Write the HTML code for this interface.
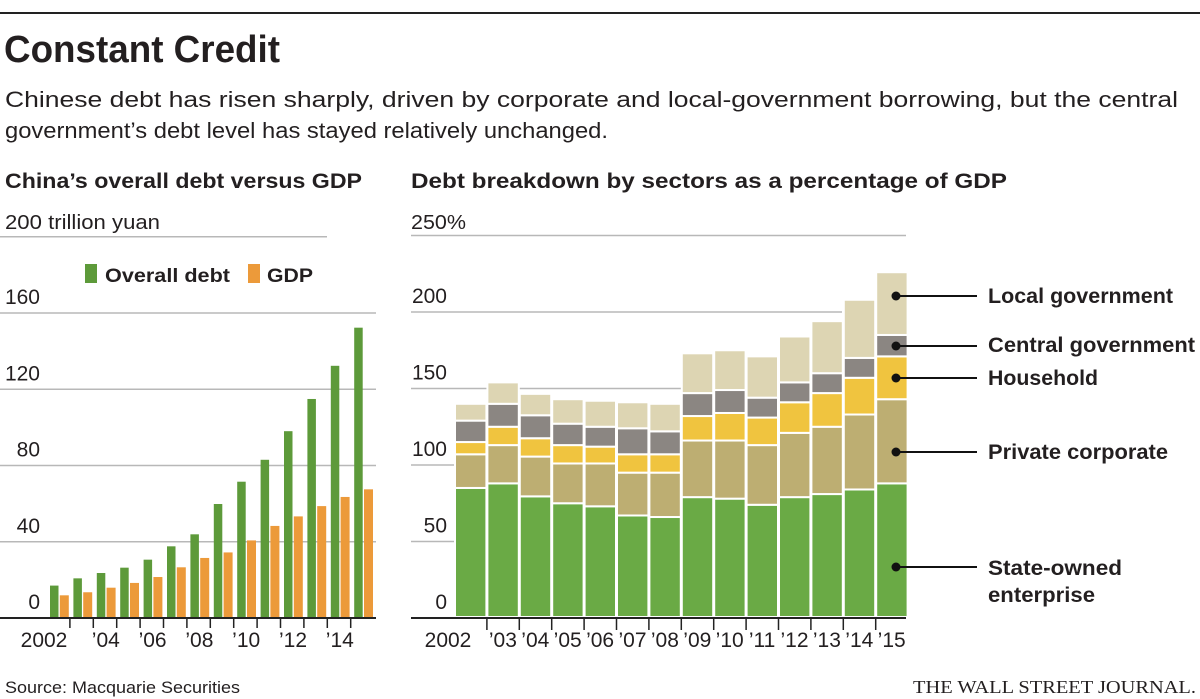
<!DOCTYPE html>
<html><head><meta charset="utf-8"><style>
html,body{margin:0;padding:0;background:#fff;}
svg{display:block;font-family:"Liberation Sans",sans-serif;}
</style></head><body>
<svg id="chart" width="1200" height="699" viewBox="0 0 1200 699" xmlns="http://www.w3.org/2000/svg">
<line x1="0" y1="13" x2="1200" y2="13" stroke="#222" stroke-width="2"/>
<text x="4" y="62" font-size="38" font-weight="bold" fill="#231f20" textLength="276" lengthAdjust="spacingAndGlyphs">Constant Credit</text>
<text x="5" y="107" font-size="22" fill="#231f20" textLength="1173" lengthAdjust="spacingAndGlyphs">Chinese debt has risen sharply, driven by corporate and local-government borrowing, but the central</text>
<text x="5" y="138" font-size="22" fill="#231f20" textLength="603" lengthAdjust="spacingAndGlyphs">government’s debt level has stayed relatively unchanged.</text>
<text x="5" y="188" font-size="21" font-weight="bold" fill="#231f20" textLength="357" lengthAdjust="spacingAndGlyphs">China’s overall debt versus GDP</text>
<text x="411" y="188" font-size="21" font-weight="bold" fill="#231f20" textLength="596" lengthAdjust="spacingAndGlyphs">Debt breakdown by sectors as a percentage of GDP</text>
<text x="5" y="229" font-size="20" fill="#231f20" textLength="155" lengthAdjust="spacingAndGlyphs">200 trillion yuan</text>
<text x="411" y="229" font-size="20" fill="#231f20" textLength="55" lengthAdjust="spacingAndGlyphs">250%</text>
<g id="left"></g>
<g id="right"></g>
<rect x="85" y="264" width="12" height="19" fill="#5d9a3a"/>
<text x="105" y="282" font-size="19" font-weight="bold" fill="#231f20" textLength="125" lengthAdjust="spacingAndGlyphs">Overall debt</text>
<rect x="248" y="264" width="12" height="19" fill="#ec9a3a"/>
<text x="267" y="282" font-size="19" font-weight="bold" fill="#231f20" textLength="46" lengthAdjust="spacingAndGlyphs">GDP</text>
<text x="5" y="693" font-size="17" fill="#231f20" textLength="235" lengthAdjust="spacingAndGlyphs">Source: Macquarie Securities</text>
<text x="913" y="693" font-size="18" font-family="Liberation Serif,serif" fill="#231f20" textLength="283" lengthAdjust="spacingAndGlyphs">THE WALL STREET JOURNAL.</text>
</svg>
<script>
const NS='http://www.w3.org/2000/svg';
const leftYears=['2002','2003','2004','2005','2006','2007','2008','2009','2010','2011','2012','2013','2014','2015'];
const leftTickLabels=['2002',"’04","’06","’08","’10","’12","’14"];
const leftYTicks=[0,40,80,120,160,200];
const debt=[17,20.8,23.6,26.4,30.6,37.6,43.9,59.8,71.5,83,98,114.9,132.3,152.3];
const gdp=[11.9,13.5,15.9,18.4,21.5,26.6,31.5,34.4,40.7,48.3,53.3,58.7,63.5,67.5];

const rightYears=['2002',"’03","’04","’05","’06","’07","’08","’09","’10","’11","’12","’13","’14","’15"];
const rightYTicks=[0,50,100,150,200,250];
const soe=[85,88,79.5,75,73,67,66,79,78,74,79,81,84,88];
const privateCorp=[22,25,26,26,28,28,29,37,38,39,42,44,49,55];
const household=[8,12,12,12,11,12,12,16,18,18,20,22,24,28];
const centralGov=[14,15,15,14,13,17,15,15,15,13,13,13,13,14];
const localGov=[11,14,14,16,17,17,18,26,26,27,30,34,38,41];
const sectorNames=['State-owned enterprise','Private corporate','Household','Central government','Local government'];

function mk(tag,attrs,parent){const e=document.createElementNS(NS,tag);for(const k in attrs)e.setAttribute(k,attrs[k]);parent.appendChild(e);return e;}

// LEFT CHART
const L=document.getElementById('left');
const lBase=618, lScale=305/160;
const ly=v=>lBase-v*lScale;
const lx=i=>50+i*23.4;
leftYTicks.forEach(t=>{
  if(t>0){const g=mk('line',{x1:0,x2:t===200?327:376,y1:ly(t),y2:ly(t),stroke:'#b8b8b8','stroke-width':1.5},L);
  
  }
  if(t<200){const tx=mk('text',{x:40,y:ly(t)-9,'font-size':21,'text-anchor':'end',fill:'#231f20'},L);tx.textContent=t;
  
  }
});
debt.forEach((v,i)=>{
  const r=mk('rect',{x:lx(i),y:ly(v),width:8.5,height:v*lScale,fill:'#5d9a3a'},L);
  
  
});
gdp.forEach((v,i)=>{
  const r=mk('rect',{x:lx(i)+9.8,y:ly(v),width:9,height:v*lScale,fill:'#ec9a3a'},L);
  
  
});
const la=mk('line',{x1:0,x2:376,y1:lBase,y2:lBase,stroke:'#222','stroke-width':2},L);


for(let i=1;i<14;i++){const t=mk('line',{x1:lx(i)-3.5,x2:lx(i)-3.5,y1:lBase,y2:lBase+10,stroke:'#222','stroke-width':1.5},L);
  
  }
leftTickLabels.forEach((s,k)=>{
  const i=k*2;
  const cx=k===0?44:lx(i)+9;
  const t=mk('text',{x:cx,y:647,'font-size':21,'text-anchor':'middle',fill:'#231f20'},L);t.textContent=s;
  
  
});

// RIGHT CHART
const R=document.getElementById('right');
const rBase=618, rScale=306/200;
const ry=v=>rBase-v*rScale;
const rx=i=>456+i*32.4;
rightYTicks.forEach(t=>{
  if(t>0){const g=mk('line',{x1:411,x2:t===200?842:906,y1:ry(t),y2:ry(t),stroke:'#b8b8b8','stroke-width':1.5},R);
  
  }
  if(t<250){const tx=mk('text',{x:447,y:ry(t)-9,'font-size':21,'text-anchor':'end',fill:'#231f20'},R);tx.textContent=t;
  
  }
});
const series=[soe,privateCorp,household,centralGov,localGov];
const colors=['#6aaa45','#bdae72','#f0c43f','#8b8682','#ddd5b3'];
rightYears.forEach((yr,i)=>{
  let acc=0;
  series.forEach((s,k)=>{
    const v=s[i];
    const r=mk('rect',{x:rx(i)-1,y:ry(acc+v),width:31.4,height:v*rScale+(k===0?-1:0),fill:colors[k],stroke:'#fff','stroke-width':2},R);
    
    
    acc+=v;
  });
});
const ra=mk('line',{x1:411,x2:906,y1:rBase,y2:rBase,stroke:'#222','stroke-width':2},R);


for(let i=1;i<14;i++){const t=mk('line',{x1:rx(i)-1.5,x2:rx(i)-1.5,y1:rBase,y2:rBase+12,stroke:'#222','stroke-width':1.5},R);
  
  }
rightYears.forEach((s,i)=>{
  const t=mk('text',{x:i===0?rx(0)-8:rx(i)+14.5,y:647,'font-size':21,'text-anchor':'middle',fill:'#231f20'},R);t.textContent=s;
  
  
});
// annotations
const ann=[['Local government',296,303,185],['Central government',346,352,207],['Household',378,385,110],['Private corporate',452,459,180],['State-owned',567,575,134]];
ann.forEach(a=>{
  const d=mk('circle',{cx:896,cy:a[1],r:4.5,fill:'#111'},R);
  
  
  const l=mk('line',{x1:896,x2:977,y1:a[1],y2:a[1],stroke:'#111','stroke-width':2},R);
  
  
  const t=mk('text',{x:988,y:a[2],'font-size':21,'font-weight':'bold',fill:'#231f20',textLength:a[3],lengthAdjust:'spacingAndGlyphs'},R);t.textContent=a[0];
  
  
});
const t2=mk('text',{x:988,y:602,'font-size':21,'font-weight':'bold',fill:'#231f20',textLength:107,lengthAdjust:'spacingAndGlyphs'},R);t2.textContent='enterprise';


</script>
</body></html>
